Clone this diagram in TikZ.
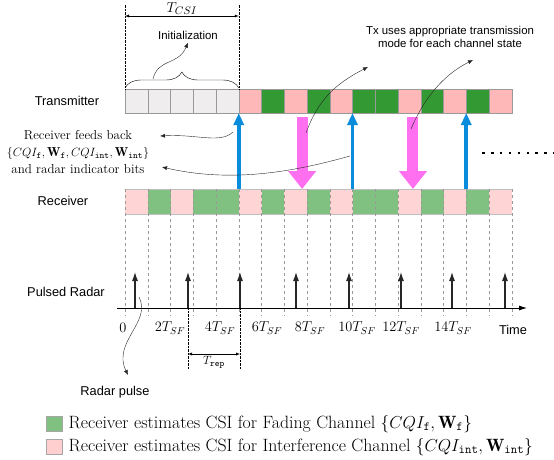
\documentclass[tikz,border=0pt]{standalone}
\usepackage{fontspec}
\usepackage{amsmath}
\newfontfamily\lblfont{Liberation Sans}
\usetikzlibrary{arrows.meta, positioning, decorations.pathreplacing}

\definecolor{txgray}{HTML}{EFEDED}
\definecolor{txpink}{HTML}{FFB8B8}
\definecolor{txgreen}{HTML}{339933}
\definecolor{rxpink}{HTML}{FFD4D4}
\definecolor{rxgreen}{HTML}{80C080}
\definecolor{fbblue}{HTML}{0A8CDC}
\definecolor{txmag}{HTML}{FF70F0}

\tikzset{
	cell/.style={minimum width=22.75pt, minimum height=24pt, inner sep=0pt, outer sep=0pt},
	rowlabel/.style={font=\lblfont\fontsize{12.8}{15}\selectfont},
	note/.style={font=\lblfont\fontsize{11.4}{12.5}\selectfont, align=center},
	fbarrow/.style={fbblue, line width=3.6pt, -{Triangle[width=10pt, length=12pt]}},
	modearrow/.style={txmag, line width=11pt, -{Triangle[width=27pt, length=18pt]}},
	pointer/.style={gray!30!black, thin, -{Latex[length=5pt, width=4pt]}},
	legbox/.style={draw=gray!70, minimum width=16pt, minimum height=15pt, inner sep=0pt}
}

\begin{document}
\begin{tikzpicture}[x=1pt, y=-1pt, >=latex]
	\useasboundingbox (0,0) rectangle (554,460);

	\foreach \c [count=\i from 0] in {txgray,txgray,txgray,txgray,txgray,txpink,txgreen,txpink,txgreen,txpink,txgreen,txgreen,txpink,txgreen,txpink,txgreen,txpink}
		\node[cell, draw=gray!80, fill=\c] (tx\i) at (136.375+22.75*\i, 101) {};
	\foreach \c [count=\i from 0] in {rxpink,rxgreen,rxpink,rxgreen,rxgreen,rxpink,rxgreen,rxpink,rxgreen,rxpink,rxgreen,rxgreen,rxpink,rxgreen,rxpink,rxgreen,rxpink}
		\node[cell, minimum height=25pt, fill=\c] (rx\i) at (136.375+22.75*\i, 201.5) {};
	\draw[gray!50] (rx0.north west) -- (rx16.north east) (rx0.south west) -- (rx16.south east);
	\foreach \i in {0,...,16}
		\draw[gray!80, dashed] (rx\i.north west) -- (rx\i.north west |- 0,316);
	\draw[gray!80, dashed] (rx16.north east) -- (rx16.north east |- 0,316);

	\node[rowlabel] (txlab) at (67,101) {Transmitter};
	\node[rowlabel] (rxlab) at (63,201) {Receiver};
	\node[rowlabel] (radlab) at (66,292) {Pulsed Radar};

	% T_CSI and initialization
	\draw[densely dotted] (tx0.north west) -- (tx0.north west |- 0,4);
	\draw[densely dotted] (tx5.north west) -- (tx5.north west |- 0,4);
	\draw[<->] (tx0.north west |- 0,16) -- node[above=-2.5pt] (tcsi) {\fontsize{15}{17}\selectfont$T_{CSI}$} (tx5.north west |- 0,16);
	\draw[decorate, decoration={brace, amplitude=16pt}] ([yshift=1pt]tx0.north west) -- ([yshift=1pt]tx4.north east);
	\node[note] (init) at (188,35) {Initialization};
	\coordinate (brc) at (153,79);
	\draw[pointer] (brc) .. controls (158,58) and (178,66) .. (init.south);

	% feedback and transmission arrows
	\foreach \i in {5,10,15}
		\draw[fbarrow] (rx\i.north west) -- (tx\i.south west);
	\draw[modearrow] ([xshift=6.5pt, yshift=-4pt]tx7.south) -- ([xshift=6.5pt]rx7.north);
	\draw[modearrow] ([xshift=3.6pt, yshift=-4pt]tx12.south) -- ([xshift=3.6pt]rx12.north);

	\node[font=\fontsize{13}{17}\selectfont, align=center] (fbtext) at (78,152)
		{Receiver feeds back\\$\{CQI_{\mathtt{f}},\mathbf{W}_{\mathtt{f}},CQI_{\mathtt{int}},\mathbf{W}_{\mathtt{int}}\}$\\and radar indicator bits};
	\coordinate (b1) at (233,132);
	\coordinate (b2) at (350,156);
	\coordinate (fb1) at (160,136);
	\coordinate (fb2) at (162,167);
	\draw[pointer] (b1) .. controls (220,144) and (198,134) .. (fb1);
	\draw[pointer] (b2) .. controls (300,170) and (235,184) .. (fb2);

	\node[note] (txnote) at (450,37) {Tx uses appropriate transmission\\mode for each channel state};
	\coordinate (m1) at (306,133);
	\coordinate (m2) at (411,129);
	\coordinate (n1) at (368,67);
	\coordinate (n2) at (473,60);
	\draw[pointer] (m1) .. controls (318,100) and (335,84) .. (n1);
	\draw[pointer] (m2) .. controls (425,96) and (445,74) .. (n2);

	\draw[line width=2.6pt, dash pattern=on 2.6pt off 6.3pt] (482,153) -- (556,153);

	% pulsed radar
	\coordinate (t0) at (117,308);
	\coordinate (tend) at (527,308);
	\draw[thick, -{Latex[length=8pt, width=5pt]}] (t0) -- (tend);
	\foreach \x [count=\k] in {135,188,240,296,349,401,452,505} {
		\coordinate (p\k) at (\x,308);
		\draw[gray!30!black, line width=1.1pt, -{Latex[length=9pt, width=6pt]}] (p\k) -- ++(0,-36);
	}
	\foreach \x/\t [count=\k] in {123/0, 170/2T_{SF}, 220/4T_{SF}, 267/6T_{SF}, 310/8T_{SF}, 357/10T_{SF}, 401/12T_{SF}, 453/14T_{SF}}
		\node[font=\fontsize{14}{16}\selectfont] (tick\k) at (\x,328) {$\t$};
	\node[rowlabel] (time) at (513,330) {Time};

	\draw[densely dotted] (p2) -- (p2 |- 0,369);
	\draw[densely dotted] (p3) -- (p3 |- 0,369);
	\draw[<->] (p2 |- 0,354) -- node[below=-1pt, font=\fontsize{13}{15}\selectfont] (trep) {$T_{\mathtt{rep}}$} (p3 |- 0,354);

	\node[rowlabel] (rplab) at (115,392) {Radar pulse};
	\coordinate (rp) at (139,297);
	\coordinate (rpend) at (128,375);
	\draw[pointer] (rp) .. controls (152,322) and (112,342) .. (rpend);

	% legend
	\node[legbox, fill=rxgreen] (lgf) at (54,424) {};
	\node[legbox, fill=rxpink!80!txpink] (lgi) at (54,447) {};
	\node[right=3pt of lgf, font=\fontsize{17.8}{19}\selectfont] (lgftext) {Receiver estimates CSI for Fading Channel $\{CQI_{\mathtt{f}},\mathbf{W}_{\mathtt{f}}\}$};
	\node[right=3pt of lgi, font=\fontsize{17.8}{19}\selectfont] (lgitext) {Receiver estimates CSI for Interference Channel $\{CQI_{\mathtt{int}},\mathbf{W}_{\mathtt{int}}\}$};
\end{tikzpicture}
\end{document}
